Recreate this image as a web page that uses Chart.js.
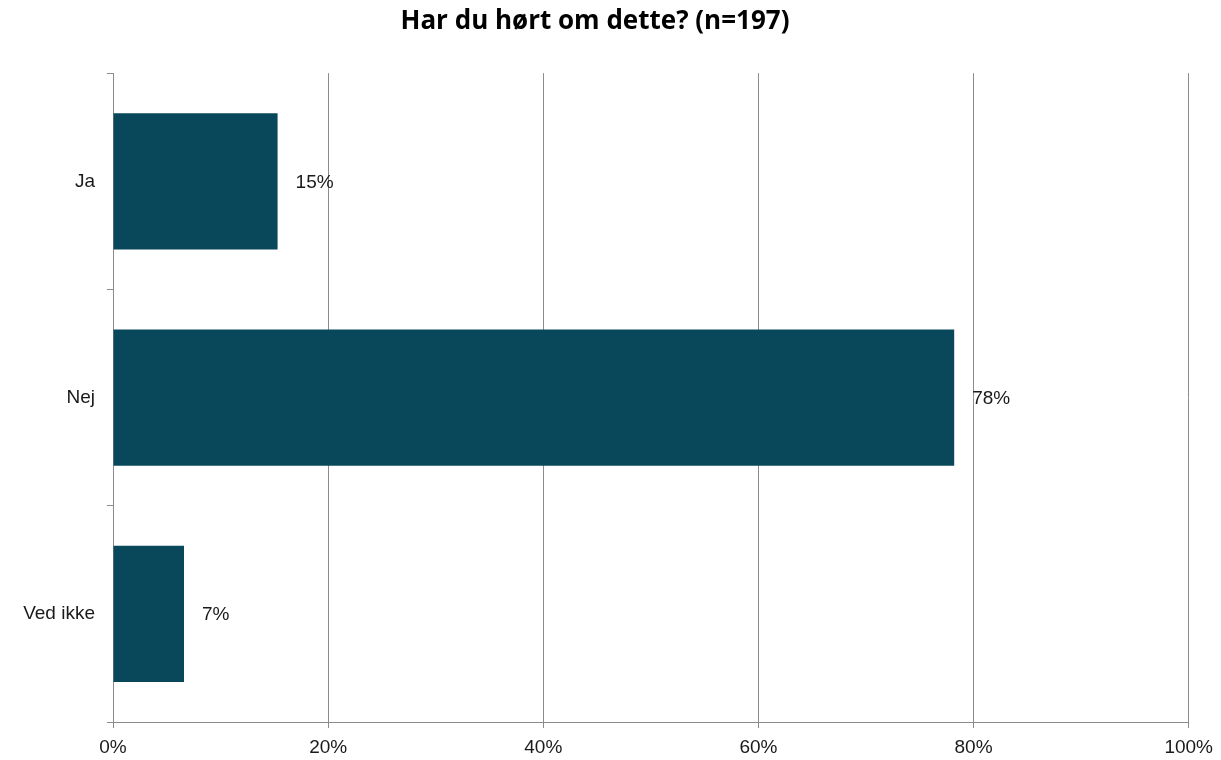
<!DOCTYPE html>
<html>
<head>
<meta charset="utf-8">
<script src="https://cdn.jsdelivr.net/npm/chart.js@4.4.1/dist/chart.umd.min.js"></script>
<style>
    body { margin: 0; background: #ffffff; }
    #wrap { width: 1221px; height: 760px; }
</style>
</head>
<body>
<div id="wrap"><canvas id="surveyChart" width="1221" height="760"></canvas></div>
<script>
//################# Chart data #################
const titleText = 'Har du hørt om dette? (n=197)';
const categories = ['Ja', 'Nej', 'Ved ikke'];
const shares = [15.3, 78.2, 6.6];
const shareLabels = ['15%', '78%', '7%'];
const xTicks = [0, 20, 40, 60, 80, 100];

const barColor = '#09475a';
const gridColor = '#8c8c8c';
const labelFont = { family: '"Liberation Sans", Arial, sans-serif', size: 19 };

//################# Plugin for the value labels next to the bars #################
const valueLabels = {
    id: 'valueLabels',
    afterDatasetsDraw(chart) {
        const ctx = chart.ctx;
        const meta = chart.getDatasetMeta(0);
        ctx.save();
        ctx.font = `${labelFont.size}px ${labelFont.family}`;
        ctx.fillStyle = '#1a1a1a';
        ctx.textAlign = 'left';
        ctx.textBaseline = 'middle';
        meta.data.forEach((bar, i) => {
            ctx.fillText(shareLabels[i], bar.x + 18, bar.y + 1);
        });
        ctx.restore();
    }
};

//################# Create the chart #################
const surveyChart = new Chart(document.getElementById('surveyChart'), {
    type: 'bar',
    data: {
        labels: categories,
        datasets: [
            {
                data: shares,
                backgroundColor: barColor,
                borderWidth: 0,
                barPercentage: 0.63,
                categoryPercentage: 1.0,
            },
        ],
    },
    options: {
        indexAxis: 'y',
        responsive: false,
        animation: false,
        layout: {
            padding: { left: 0, right: 31, top: 0, bottom: 0 },
        },
        plugins: {
            legend: { display: false },
            tooltip: { enabled: false },
            title: {
                display: true,
                text: titleText,
                color: '#000000',
                font: { family: '"Open Sans", "Noto Sans", sans-serif', size: 26, weight: 'bold', lineHeight: 1.2 },
                padding: { top: 6, bottom: 36 },
            },
        },
        scales: {
            x: {
                min: 0,
                max: 100,
                afterFit: (scale) => { scale.height = 38; },
                afterBuildTicks: (scale) => { scale.ticks = xTicks.map(v => ({ value: v })); },
                ticks: {
                    color: '#1a1a1a',
                    font: labelFont,
                    padding: 8,
                    maxRotation: 0,
                    callback: (v) => v + '%',
                },
                grid: {
                    color: gridColor,
                    lineWidth: 1,
                    tickLength: 6,
                    drawOnChartArea: true,
                },
                border: { color: gridColor, width: 1 },
            },
            y: {
                afterFit: (scale) => { scale.width = 113; },
                ticks: {
                    color: '#1a1a1a',
                    font: labelFont,
                    padding: 12,
                },
                grid: {
                    color: gridColor,
                    lineWidth: 1,
                    tickLength: 6,
                    drawOnChartArea: false,
                    offset: true,
                },
                border: { color: gridColor, width: 1 },
            },
        },
    },
    plugins: [valueLabels],
});
</script>
</body>
</html>
